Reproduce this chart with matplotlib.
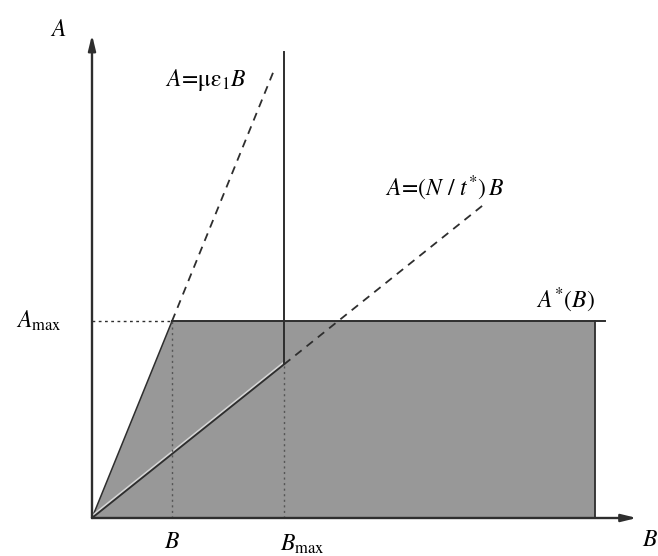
import matplotlib
matplotlib.use('Agg')
import matplotlib.pyplot as plt
import matplotlib.patheffects as pe

plt.rcParams['mathtext.fontset'] = 'stix'
plt.rcParams['font.family'] = ['Liberation Serif', 'DejaVu Serif']

# schematic values (arbitrary units, B = 1)
b_val = 1.0          # B
b_max = 2.4          # B_max
a_max = 2.46         # A_max
slope_mu = a_max / b_val   # A = mu eps1 B
slope_n = 0.8              # A = (N/t*) B
b_right = 6.29       # right edge of feasible region
a_star_end = 6.41    # end of A*(B) line
mu_line_end = 2.29   # where dashed mu line stops
n_line_end = 4.89    # where dashed N/t* line stops
b_axis_end = 6.81
a_axis_end = 6.04
b_max_top = 5.83

region_b = [0, b_val, b_right, b_right]
region_a = [0, a_max, a_max, 0]

ink = '#2e2e2e'
fill = '#989898'

fig = plt.figure(figsize=(6.58, 5.56), dpi=100)
ax = fig.add_axes([0, 0, 1, 1])
ax.set_xlim(-1.15, 7.075)
ax.set_ylim(-0.475, 6.475)
ax.axis('off')

# shaded feasible region
ax.fill(region_b, region_a, color=fill, lw=0, zorder=1)
ax.plot([b_right, b_right], [0, a_max], color=ink, lw=1.3, zorder=3)
ax.plot([b_val, a_star_end], [a_max, a_max], color=ink, lw=1.4, zorder=3)
ax.plot([0, b_val], [0, a_max], color=ink, lw=1.1, zorder=3)

# solid A=(N/t*)B part up to B_max, then vertical line at B_max
kink = slope_n * b_max
ax.plot([0, b_max], [0, kink], color=ink, lw=1.3, zorder=3,
        path_effects=[pe.Stroke(offset=(0, 1.6), linewidth=1.2, foreground='#d6d6d6'),
                      pe.Normal()])
ax.plot([b_max, b_max], [kink, b_max_top], color=ink, lw=1.4, zorder=3)

# dashed extensions
ax.plot([b_val, mu_line_end], [a_max, slope_mu * mu_line_end], color=ink, lw=1.3,
        dashes=(4.5, 3.5), zorder=3)
ax.plot([b_max, n_line_end], [kink, slope_n * n_line_end], color=ink, lw=1.3,
        dashes=(4.5, 3.5), zorder=3)

# dotted guides
ax.plot([0, b_val], [a_max, a_max], color=ink, lw=1.0, dashes=(2, 2.5), zorder=3)
ax.plot([b_val, b_val], [0, a_max], color='#555555', lw=1.0, dashes=(1.5, 2.5), zorder=3)
ax.plot([b_max, b_max], [0, kink], color='#555555', lw=1.0, dashes=(1.5, 2.5), zorder=3)

# axes arrows
arrow = dict(arrowstyle='-|>,head_length=0.9,head_width=0.22', lw=1.7, color=ink,
             shrinkA=0, shrinkB=0)
ax.annotate('', xy=(0, a_axis_end), xytext=(0, 0), arrowprops=arrow, zorder=4)
ax.annotate('', xy=(b_axis_end, 0), xytext=(0, 0), arrowprops=arrow, zorder=4)

fs = 17
ax.text(-0.42, 6.10, r'$A$', fontsize=fs, ha='center', va='center')
ax.text(7.07, -0.28, r'$B$', fontsize=fs, ha='right', va='center')
ax.text(-0.66, a_max, r'$A_{\rm max}$', fontsize=fs, ha='center', va='center')
ax.text(b_val, -0.31, r'$B$', fontsize=fs, ha='center', va='center')
ax.text(b_max + 0.23, -0.33, r'$B_{\rm max}$', fontsize=fs, ha='center', va='center')
ax.text(1.42, 5.475, r'$A\!=\!\mathrm{\mu\varepsilon}_1 B$', fontsize=fs,
        ha='center', va='center')
ax.text(4.41, 4.125, r'$A\!=\!(N\ /\ t^{*})\,B$', fontsize=fs, ha='center', va='center')
ax.text(5.92, 2.725, r'$A^{*}(B)$', fontsize=fs, ha='center', va='center')

fig.savefig('out.png', dpi=100)
